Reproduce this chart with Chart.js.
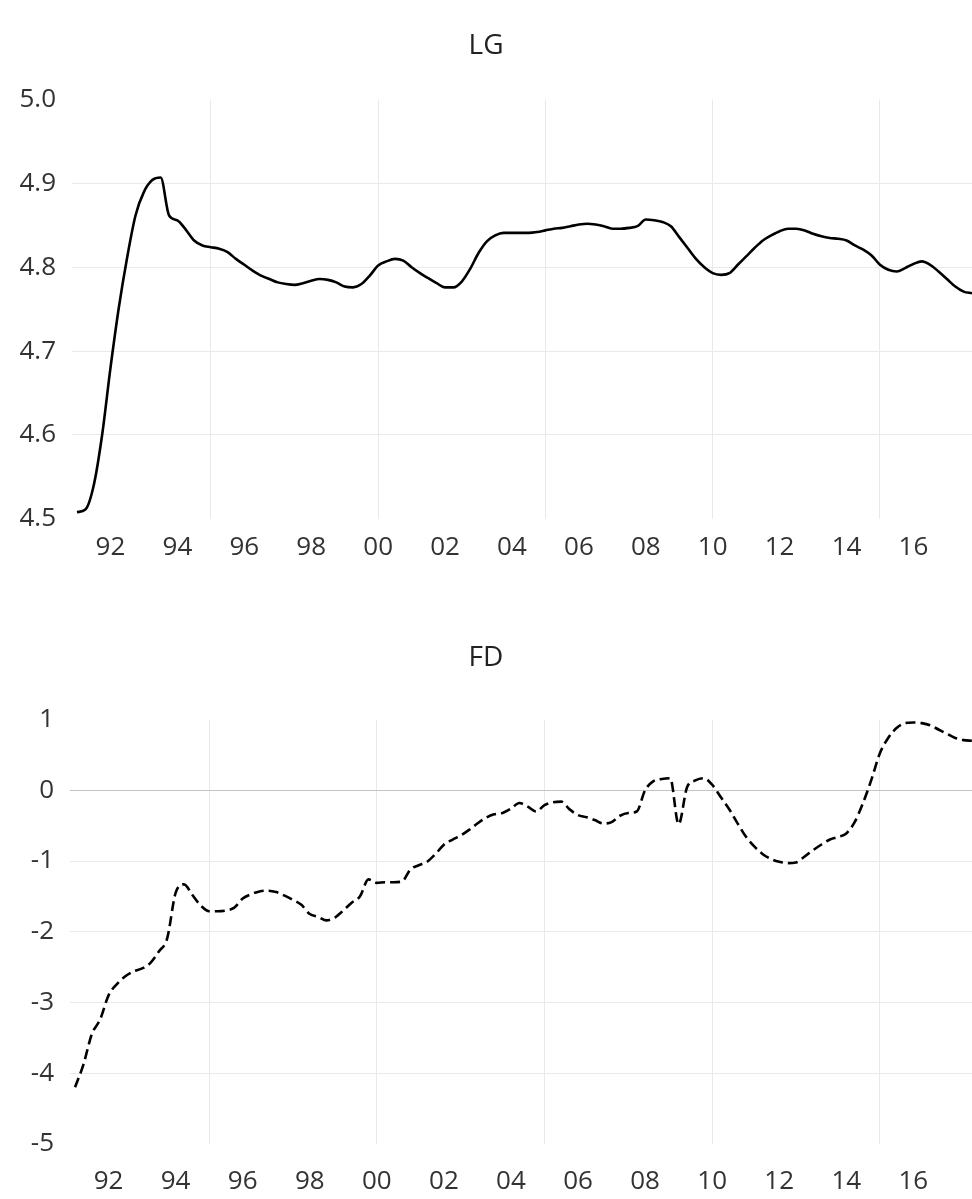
<!DOCTYPE html>
<html lang="en">
<head>
<meta charset="UTF-8">
<title>LG / FD</title>
<script src="https://cdn.jsdelivr.net/npm/chart.js"></script>
<style>
  html, body { margin: 0; background: #fff; overflow: hidden; }
  .panel { position: relative; width: 972px; }
  #topPanel { height: 600px; }
  #bottomPanel { height: 622px; }
</style>
</head>
<body>
<div class="panel" id="topPanel"><canvas id="lgChart"></canvas></div>
<div class="panel" id="bottomPanel"><canvas id="fdChart"></canvas></div>
<script>
// quarterly observations, 1991Q1 .. 2017Q4
const years = [1991, 1992, 1993, 1994, 1995, 1996, 1997, 1998, 1999, 2000,
               2001, 2002, 2003, 2004, 2005, 2006, 2007, 2008, 2009, 2010,
               2011, 2012, 2013, 2014, 2015, 2016, 2017];
const quarterX = years.flatMap(y => [y, y + 0.25, y + 0.5, y + 0.75]);

const lgValues = [
  4.508, 4.511, 4.540, 4.600,  4.680, 4.752, 4.812, 4.862,
  4.890, 4.904, 4.907, 4.862,  4.856, 4.845, 4.832, 4.826,
  4.824, 4.822, 4.818, 4.810,  4.803, 4.796, 4.790, 4.786,
  4.782, 4.780, 4.779, 4.781,  4.784, 4.786, 4.785, 4.782,
  4.777, 4.776, 4.780, 4.790,  4.802, 4.807, 4.810, 4.808,
  4.800, 4.793, 4.787, 4.781,  4.776, 4.776, 4.783, 4.798,
  4.817, 4.831, 4.838, 4.841,  4.841, 4.841, 4.841, 4.842,
  4.844, 4.846, 4.847, 4.849,  4.851, 4.852, 4.851, 4.849,
  4.846, 4.846, 4.847, 4.849,  4.857, 4.856, 4.854, 4.849,
  4.836, 4.823, 4.810, 4.800,  4.793, 4.791, 4.793, 4.803,
  4.813, 4.823, 4.832, 4.838,  4.843, 4.846, 4.846, 4.844,
  4.840, 4.837, 4.835, 4.834,  4.832, 4.826, 4.821, 4.814,
  4.803, 4.797, 4.795, 4.799,  4.804, 4.807, 4.803, 4.795,
  4.786, 4.777, 4.771, 4.769
];

const fdValues = [
  -4.20, -3.88, -3.45, -3.24,  -2.90, -2.74, -2.63, -2.56,
  -2.52, -2.44, -2.28, -2.09,  -1.45, -1.33, -1.48, -1.63,
  -1.71, -1.71, -1.70, -1.66,  -1.53, -1.47, -1.43, -1.42,
  -1.44, -1.49, -1.55, -1.62,  -1.75, -1.79, -1.84, -1.80,
  -1.70, -1.59, -1.50, -1.26,  -1.31, -1.30, -1.30, -1.29,
  -1.12, -1.06, -1.01, -0.90,  -0.77, -0.70, -0.64, -0.56,
  -0.47, -0.39, -0.34, -0.32,  -0.26, -0.18, -0.23, -0.30,
  -0.21, -0.17, -0.16, -0.27,  -0.35, -0.38, -0.42, -0.47,
  -0.45, -0.36, -0.32, -0.30,   0.00,  0.13,  0.16,  0.17,
  -0.48,  0.04,  0.14,  0.17,   0.08, -0.09, -0.26, -0.46,
  -0.65, -0.79, -0.90, -0.97,  -1.01, -1.03, -1.02, -0.94,
  -0.85, -0.77, -0.70, -0.66,  -0.61, -0.45, -0.18,  0.15,
   0.52,  0.74,  0.88,  0.95,   0.96,  0.95,  0.92,  0.86,
   0.80,  0.74,  0.71,  0.70
];

// x axis: labels every two years, grid lines every five
const labelYears = [1992, 1994, 1996, 1998, 2000, 2002, 2004, 2006, 2008, 2010, 2012, 2014, 2016];
const labelText  = ['92', '94', '96', '98', '00', '02', '04', '06', '08', '10', '12', '14', '16'];
const gridYears  = [1995, 2005, 2015];

const lgTicks = [4.5, 4.6, 4.7, 4.8, 4.9, 5.0];
const fdTicks = [-5, -4, -3, -2, -1, 0, 1];

const fontFamily = '"Open Sans", "Segoe UI", sans-serif';
const gridColor = '#e9e9e9';

function xAxis(labelPad) {
  return {
    type: 'linear',
    min: 1990.85,
    max: 2017.75,
    afterBuildTicks: (scale) => {
      const vals = labelYears.concat(gridYears).sort((a, b) => a - b);
      scale.ticks = vals.map(v => ({ value: v }));
    },
    ticks: {
      autoSkip: false,
      maxRotation: 0,
      padding: labelPad,
      color: '#333',
      font: { family: fontFamily, size: 26 },
      callback: (v) => {
        const i = labelYears.indexOf(v);
        return i >= 0 ? labelText[i] : '';
      }
    },
    grid: {
      drawTicks: false,
      color: (ctx) => (ctx.tick && (ctx.tick.value % 5 === 0)) ? gridColor : 'rgba(0,0,0,0)'
    },
    border: { display: false }
  };
}

function yAxis(tickVals, width, fmt, gridFn) {
  return {
    min: tickVals[0],
    max: tickVals[tickVals.length - 1],
    afterBuildTicks: (scale) => { scale.ticks = tickVals.map(v => ({ value: v })); },
    afterFit: (scale) => { scale.width = width; },
    ticks: {
      padding: 16,
      color: '#333',
      font: { family: fontFamily, size: 26 },
      callback: fmt
    },
    grid: { drawTicks: false, color: gridFn },
    border: { display: false }
  };
}

function makeChart(id, title, values, dashed, yOpts, titlePad, layoutPad, labelPad) {
  return new Chart(document.getElementById(id), {
    type: 'line',
    data: {
      datasets: [{
        label: title,
        data: values.map((v, i) => ({ x: quarterX[i], y: v })),
        borderColor: '#000',
        borderWidth: 2.6,
        borderDash: dashed ? [10, 5] : [],
        pointRadius: 0,
        cubicInterpolationMode: 'monotone',
        fill: false
      }]
    },
    options: {
      responsive: true,
      maintainAspectRatio: false,
      animation: false,
      layout: { padding: layoutPad },
      scales: { x: xAxis(labelPad), y: yOpts },
      plugins: {
        legend: { display: false },
        tooltip: { enabled: false },
        title: {
          display: true,
          text: title,
          color: '#222',
          font: { family: fontFamily, size: 28, weight: 'normal' },
          padding: titlePad
        }
      }
    }
  });
}

makeChart('lgChart', 'LG', lgValues, false,
  yAxis(lgTicks, 72, (v) => v.toFixed(1),
    (ctx) => (ctx.tick && ctx.tick.value > 4.55 && ctx.tick.value < 4.95) ? gridColor : 'rgba(0,0,0,0)'),
  { top: 29, bottom: 37 }, { top: 0, right: 0, left: 0, bottom: 24 }, 13);

makeChart('fdChart', 'FD', fdValues, true,
  yAxis(fdTicks, 70, (v) => String(v),
    (ctx) => {
      if (!ctx.tick) return 'rgba(0,0,0,0)';
      const v = ctx.tick.value;
      if (v === 0) return '#c4c4c4';
      return (v > -4.5 && v < 0.5) ? gridColor : 'rgba(0,0,0,0)';
    }),
  { top: 41, bottom: 45 }, { top: 0, right: 0, left: 0, bottom: 3 }, 22);
</script>
</body>
</html>
